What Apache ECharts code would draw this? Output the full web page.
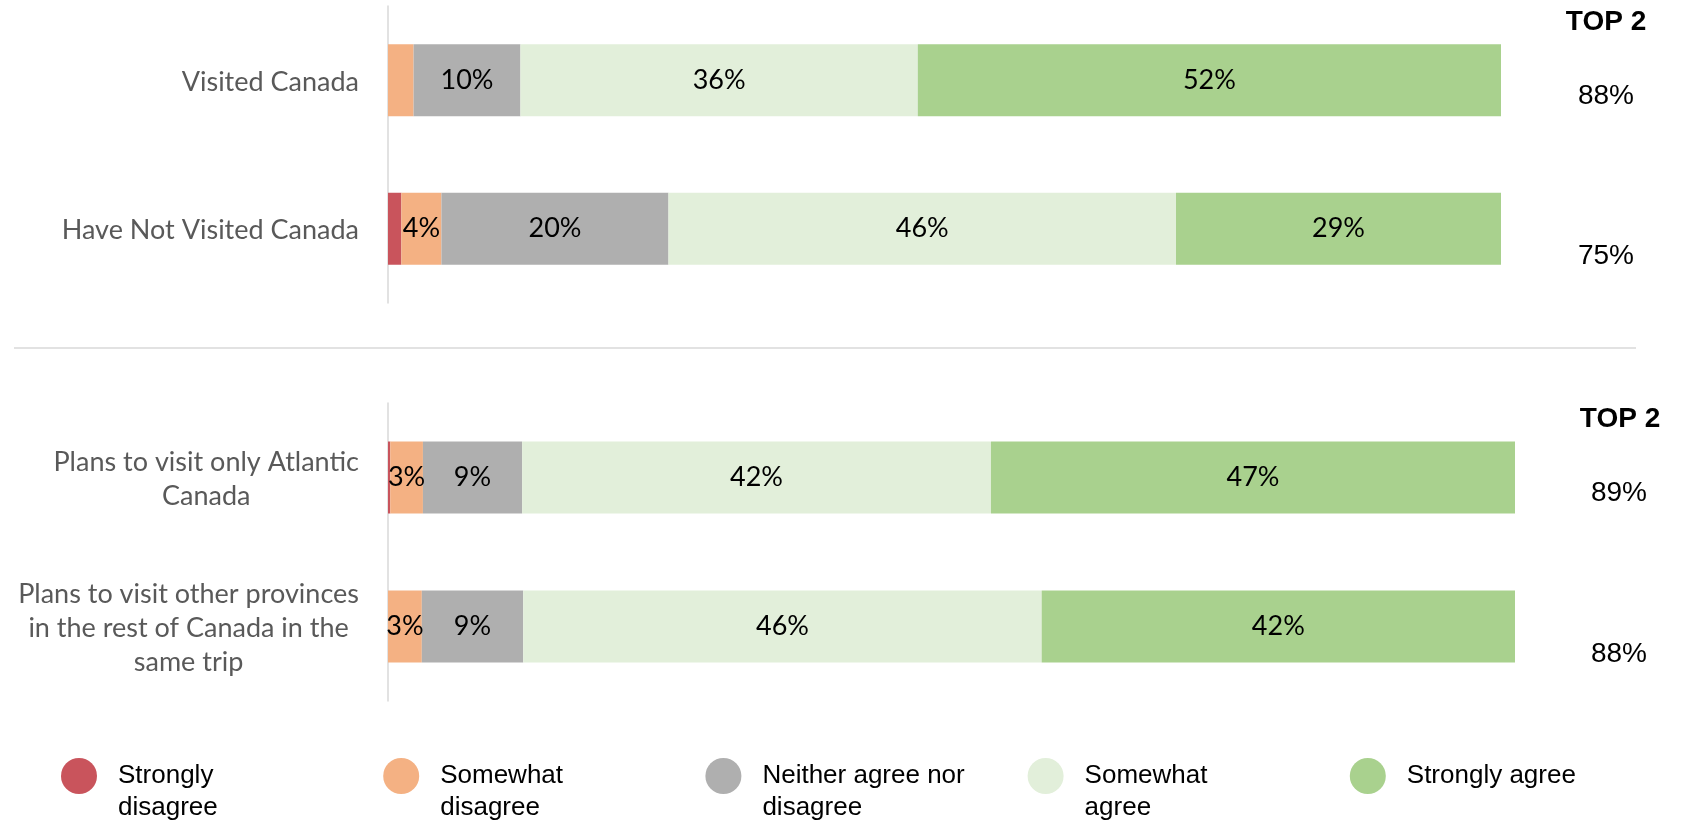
<!DOCTYPE html>
<html>
<head>
<meta charset="utf-8">
<script src="https://cdn.jsdelivr.net/npm/echarts@6/dist/echarts.min.js"></script>
<style>
  html, body { margin: 0; padding: 0; background: #fff; }
  #chart { width: 1688px; height: 824px; }
</style>
</head>
<body>
<div id="chart"></div>
<script>
// answer levels, in stacking order
const levels = ['Strongly disagree', 'Somewhat disagree', 'Neither agree nor disagree', 'Somewhat agree', 'Strongly agree'];
const legendLabels = ['Strongly\ndisagree', 'Somewhat\ndisagree', 'Neither agree nor\ndisagree', 'Somewhat\nagree', 'Strongly agree'];
const colors = ['#C9545C', '#F4B183', '#AFAFAF', '#E2EFDA', '#A9D18E'];

// upper panel
const upperCategories = ['Visited Canada', 'Have Not Visited Canada'];
const visitedCanada = [0, 2.3, 9.6, 35.7, 52.4];
const notVisitedCanada = [1.2, 3.6, 20.4, 45.6, 29.2];
const upperTop2 = [88, 75];

// lower panel
const lowerCategories = ['Plans to visit only Atlantic\nCanada', 'Plans to visit other provinces\nin the rest of Canada in the\nsame trip'];
const onlyAtlantic = [0.2, 2.9, 8.8, 41.6, 46.5];
const restOfCanada = [0, 3, 9, 46, 42];
const lowerTop2 = [89, 88];

const top2Header = 'TOP 2';

const calibriLike = 'Lato, "Noto Sans", sans-serif';
const arialLike = '"Liberation Sans", Arial, sans-serif';

const chart = echarts.init(document.getElementById('chart'));

function categoryAxis(gridIndex, cats) {
    return {
        type: 'category',
        gridIndex: gridIndex,
        data: cats,
        inverse: true,
        axisLine: { show: true, lineStyle: { color: '#D9D9D9', width: 1.5 } },
        axisTick: { show: false },
        splitLine: { show: false },
        axisLabel: {
            margin: 29,
            color: '#595959',
            fontFamily: calibriLike,
            fontSize: 27,
            lineHeight: 34,
            formatter: function (v) {
                // centre each line inside the right-aligned block
                return v.split('\n').map(s => '{c|' + s + '}').join('\n');
            },
            rich: {
                c: { align: 'center', color: '#595959', fontFamily: calibriLike, fontSize: 27, lineHeight: 34, padding: [4, 0, 0, 0] }
            }
        }
    };
}

function valueAxis(gridIndex) {
    return { type: 'value', gridIndex: gridIndex, min: 0, max: 100, show: false };
}

function panelSeries(gridIndex, rows) {
    return levels.map((name, k) => ({
        name: name,
        type: 'bar',
        xAxisIndex: gridIndex,
        yAxisIndex: gridIndex,
        stack: 'panel' + gridIndex,
        barWidth: 72,
        itemStyle: { color: colors[k] },
        emphasis: { disabled: true },
        label: {
            show: true,
            position: 'inside',
            color: '#000',
            fontFamily: calibriLike,
            fontSize: 27,
            formatter: function (p) {
                return p.value >= 2.5 ? Math.round(p.value) + '%' : '';
            }
        },
        data: rows.map(r => r[k])
    }));
}

// one legend per level; a blank first line puts the icon beside the first text line
const legends = levels.map((name, i) => {
    const n = legendLabels[i].split('\n').length;
    const text = n > 1 ? '\n' + legendLabels[i] : legendLabels[i];
    const lines = n > 1 ? n + 1 : 1;
    return {
        data: [name],
        left: 61 + i * 322.2,
        top: 776 - Math.max(18, 16 * lines),
        padding: 0,
        icon: 'circle',
        itemWidth: 36,
        itemHeight: 36,
        selectedMode: false,
        formatter: function () { return text; },
        textStyle: {
            fontFamily: arialLike,
            fontSize: 26,
            color: '#000',
            lineHeight: 32,
            padding: [0, 0, 0, 16]
        }
    };
});

const option = {
    animation: false,
    color: colors,
    legend: legends,
    grid: [
        { left: 388, right: 187, top: 6, height: 297, outerBoundsMode: 'none' },
        { left: 388, right: 173, top: 403, height: 298, outerBoundsMode: 'none' }
    ],
    xAxis: [valueAxis(0), valueAxis(1)],
    yAxis: [categoryAxis(0, upperCategories), categoryAxis(1, lowerCategories)],
    series: panelSeries(0, [visitedCanada, notVisitedCanada])
        .concat(panelSeries(1, [onlyAtlantic, restOfCanada]))
};

chart.setOption(option);

// TOP 2 column, placed next to each bar using the axis scale
const rowShift = [16, 28];
function top2Texts(axisIndex, values, x) {
    return values.map((v, i) => ({
        type: 'text',
        x: x,
        y: chart.convertToPixel({ yAxisIndex: axisIndex }, i) + rowShift[i],
        style: {
            text: v + '%',
            fill: '#000',
            font: '28px ' + arialLike,
            align: 'center',
            verticalAlign: 'middle'
        }
    }));
}

const graphics = [
    {
        type: 'line',
        shape: { x1: 14, y1: 348, x2: 1636, y2: 348 },
        style: { stroke: '#D9D9D9', lineWidth: 1.5 }
    },
    {
        type: 'text', x: 1606, y: 22,
        style: { text: top2Header, fill: '#000', font: 'bold 28px ' + arialLike, align: 'center', verticalAlign: 'middle' }
    },
    {
        type: 'text', x: 1620, y: 419,
        style: { text: top2Header, fill: '#000', font: 'bold 28px ' + arialLike, align: 'center', verticalAlign: 'middle' }
    }
].concat(top2Texts(0, upperTop2, 1606), top2Texts(1, lowerTop2, 1619));

chart.setOption({ graphic: graphics });
</script>
</body>
</html>
